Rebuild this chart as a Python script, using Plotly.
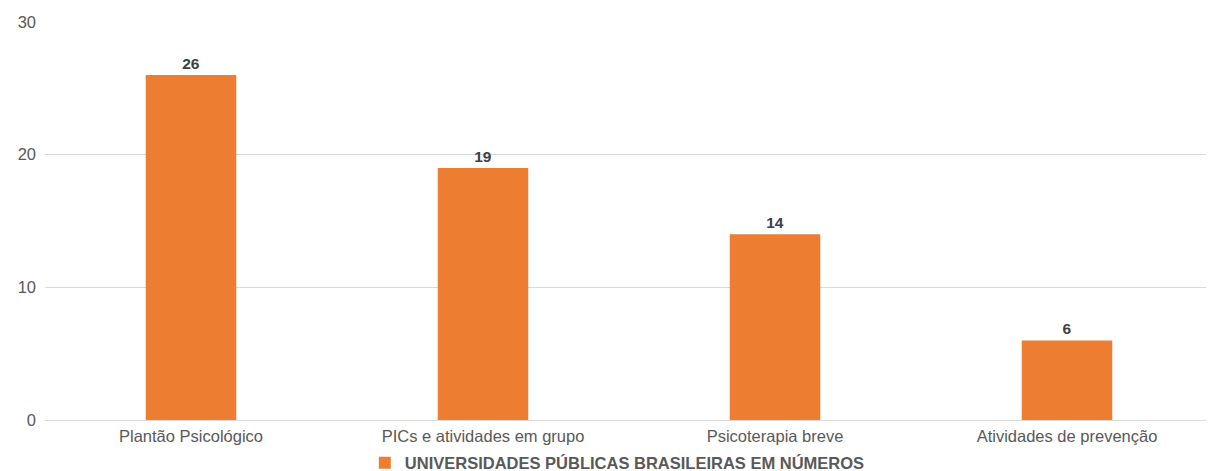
import plotly.graph_objects as go

categories = ["Plantão Psicológico", "PICs e atividades em grupo", "Psicoterapia breve", "Atividades de prevenção"]
values = [26, 19, 14, 6]
series_name = "UNIVERSIDADES PÚBLICAS BRASILEIRAS EM NÚMEROS"
y_ticks = [0, 10, 20, 30]

FONT = "Liberation Sans, Arial, sans-serif"
W, H = 1206, 463  # page body has an 8px default margin

fig = go.Figure()
fig.add_trace(go.Bar(
    x=categories, y=values, name=series_name,
    marker=dict(color="#ED7D31", line=dict(width=0)),
    text=[str(v) for v in values], textposition="outside",
    textfont=dict(family=FONT, size=15.5, color="#404040", weight="bold"),
    cliponaxis=False,
))
fig.update_layout(
    width=W, height=H,
    margin=dict(l=37, r=1, t=14, b=51, autoexpand=False),
    paper_bgcolor="white", plot_bgcolor="white",
    bargap=0.69,
    font=dict(family=FONT, size=15, color="#595959"),
    showlegend=True,
    legend=dict(orientation="h", x=0.49, xanchor="center", yref="container", y=(H - 455) / H,
                yanchor="middle",
                font=dict(size=16.5, color="#595959", weight="bold"),
                itemwidth=30, tracegroupgap=0),
    xaxis=dict(showgrid=False, showline=False, ticks="", automargin=False, ticklabelstandoff=4,
               tickfont=dict(size=16.5, color="#595959")),
    yaxis=dict(range=[0, 30], tickvals=y_ticks, showgrid=True, gridcolor="#D9D9D9", gridwidth=1,
               zeroline=True, zerolinecolor="#D9D9D9", zerolinewidth=1, automargin=False,
               showline=False, ticks="", ticklabelstandoff=8, tickfont=dict(size=16.5, color="#595959")),
)
fig.write_html("out.html")
